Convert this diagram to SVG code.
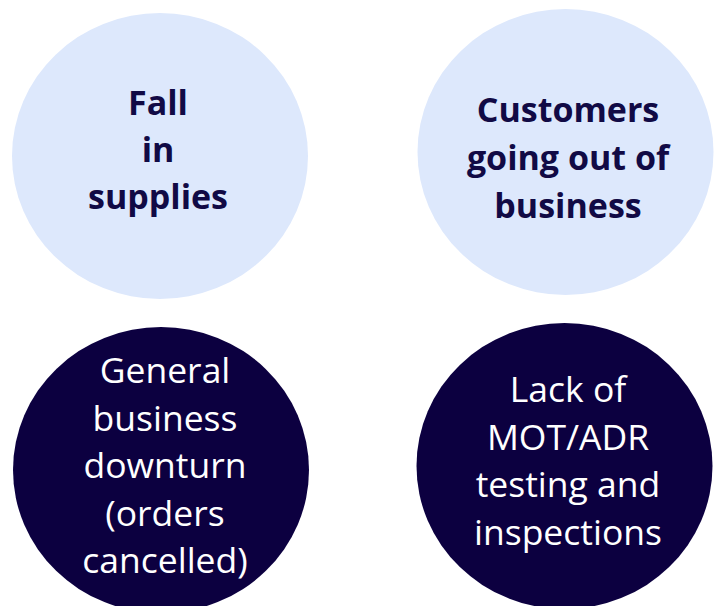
<svg xmlns="http://www.w3.org/2000/svg" width="721" height="606" viewBox="0 0 721 606">
<style>
.light{fill:#DDE8FC}
.dark{fill:#0C0040}
.tl{font-family:"Open Sans","Liberation Sans",sans-serif;font-size:34px;font-weight:700;fill:#110A45;text-anchor:middle}
.td{font-family:"Open Sans","Liberation Sans",sans-serif;font-size:35.5px;font-weight:400;fill:#FFFFFF;text-anchor:middle}
</style>
<rect width="721" height="606" fill="#FFFFFF"/>
<g id="node-fall">
<ellipse class="light" cx="160" cy="156" rx="148" ry="143"/>
<text class="tl" x="158" y="115">Fall</text>
<text class="tl" x="158" y="162">in</text>
<text class="tl" x="158" y="209">supplies</text>
</g>
<g id="node-customers">
<ellipse class="light" cx="565.5" cy="152" rx="148" ry="143"/>
<text class="tl" x="568" y="122">Customers</text>
<text class="tl" x="568" y="170">going out of</text>
<text class="tl" x="568" y="218">business</text>
</g>
<g id="node-downturn">
<ellipse class="dark" cx="161" cy="470" rx="148" ry="143"/>
<text class="td" x="165" y="383">General</text>
<text class="td" x="165" y="431">business</text>
<text class="td" x="165" y="478">downturn</text>
<text class="td" x="165" y="526">(orders</text>
<text class="td" x="165" y="573">cancelled)</text>
</g>
<g id="node-mot">
<ellipse class="dark" cx="564.5" cy="466" rx="148" ry="143"/>
<text class="td" x="568" y="402">Lack of</text>
<text class="td" x="568" y="450">MOT/ADR</text>
<text class="td" x="568" y="497">testing and</text>
<text class="td" x="568" y="545">inspections</text>
</g>
<g id="connectors"/>
</svg>
